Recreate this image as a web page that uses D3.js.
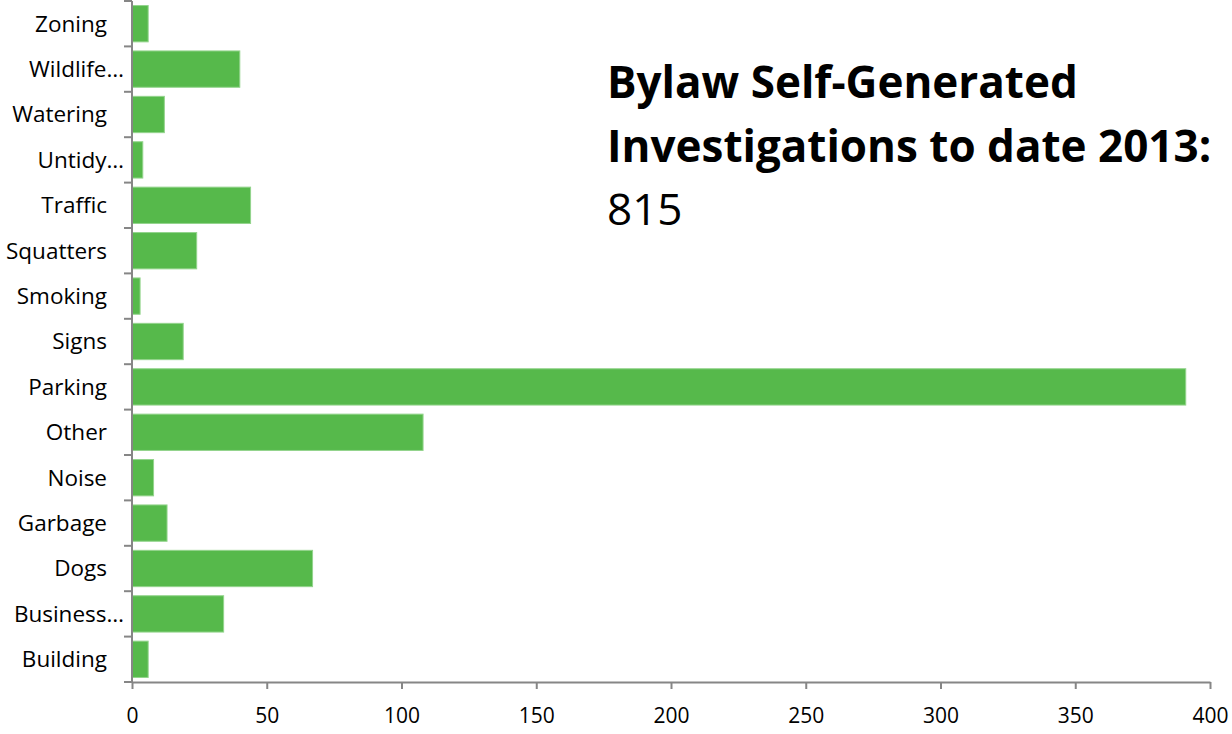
<!DOCTYPE html>
<html>
<head>
<meta charset="utf-8">
<script src="https://cdn.jsdelivr.net/npm/d3@7"></script>
<style>
  html, body { margin: 0; padding: 0; background: #fff; }
  svg { display: block; }
  text { font-family: "Open Sans", "Noto Sans", sans-serif; fill: #000; }
</style>
</head>
<body>
<svg id="chart" width="1232" height="734"></svg>
<script>
// Bylaw self-generated investigations by category (top to bottom)
const categories = ["Zoning", "Wildlife…", "Watering", "Untidy…", "Traffic", "Squatters",
  "Smoking", "Signs", "Parking", "Other", "Noise", "Garbage", "Dogs", "Business…", "Building"];
const counts = [6, 40, 12, 4, 44, 24, 3, 19, 391, 108, 8, 13, 67, 34, 6];
const xTicks = [0, 50, 100, 150, 200, 250, 300, 350, 400];
const titleLines = ["Bylaw Self-Generated", "Investigations to date 2013:"];
const totalLabel = "815";

const svg = d3.select("#chart");
const margin = { top: 1, left: 132, right: 22, bottom: 52 };
const W = 1232, H = 734;
const innerW = W - margin.left - margin.right;
const innerH = H - margin.top - margin.bottom;

const x = d3.scaleLinear().domain([0, 400]).range([0, innerW]);
const y = d3.scaleBand().domain(categories).range([0, innerH]).paddingInner(0.2).paddingOuter(0.1);

const g = svg.append("g").attr("transform", `translate(${margin.left},${margin.top})`);

// Bars
g.selectAll("rect.bar")
  .data(categories.map((c, i) => ({ c, v: counts[i] })))
  .join("rect")
  .attr("class", "bar")
  .attr("x", 0)
  .attr("y", d => y(d.c))
  .attr("width", d => x(d.v))
  .attr("height", y.bandwidth())
  .attr("fill", "#56b94b")
  .attr("stroke", "#93d48c")
  .attr("stroke-width", 1);

const axisColor = "#868686";

// X axis
const xAxis = g.append("g")
  .attr("transform", `translate(0,${innerH})`)
  .call(d3.axisBottom(x).tickValues(xTicks).tickSize(7).tickPadding(19).tickSizeOuter(0));
xAxis.select(".domain").attr("stroke", axisColor).attr("stroke-width", 2);
xAxis.selectAll(".tick line").attr("stroke", axisColor).attr("stroke-width", 2);
xAxis.selectAll(".tick text")
  .style("font-family", "'Open Sans', sans-serif")
  .style("font-size", "21px")
  .attr("fill", "#000");

// Y axis line with ticks at band boundaries
g.append("line")
  .attr("x1", 0).attr("x2", 0).attr("y1", 0).attr("y2", innerH)
  .attr("stroke", axisColor).attr("stroke-width", 2);
const boundaries = d3.range(categories.length + 1).map(i => i * innerH / categories.length);
g.selectAll("line.ytick")
  .data(boundaries)
  .join("line")
  .attr("class", "ytick")
  .attr("x1", -8).attr("x2", 0)
  .attr("y1", d => d).attr("y2", d => d)
  .attr("stroke", axisColor).attr("stroke-width", 2);

// Category labels
g.selectAll("text.cat")
  .data(categories)
  .join("text")
  .attr("class", "cat")
  .attr("x", d => d.endsWith("…") ? -8 : -25)
  .attr("y", d => y(d) + y.bandwidth() / 2)
  .attr("dy", "0.35em")
  .attr("text-anchor", "end")
  .style("font-size", "22.5px")
  .text(d => d);

// Title block
const title = svg.append("text").attr("x", 607).attr("y", 98);
titleLines.forEach((t, i) => {
  title.append("tspan")
    .attr("x", 607)
    .attr("dy", i === 0 ? 0 : 64)
    .style("font-weight", "bold")
    .style("font-size", "44px")
    .text(t);
});
title.append("tspan")
  .attr("x", 607)
  .attr("dy", 63)
  .style("font-size", "44px")
  .text(totalLabel);
</script>
</body>
</html>
